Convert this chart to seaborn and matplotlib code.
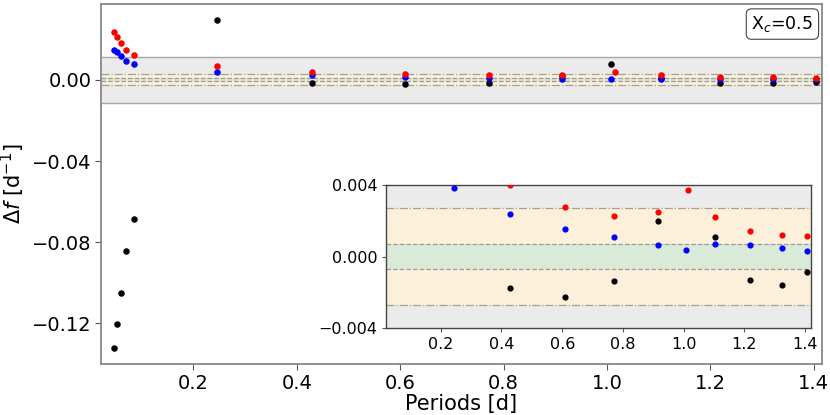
import matplotlib
matplotlib.use('Agg')
import seaborn as sns
import pandas as pd
import matplotlib.pyplot as plt

sns.set_style('ticks')
plt.rcParams['font.family'] = ['DejaVu Sans']
plt.rcParams['text.color'] = 'black'
plt.rcParams['axes.labelcolor'] = 'black'
plt.rcParams['xtick.color'] = 'black'
plt.rcParams['ytick.color'] = 'black'

# periods [d] and frequency differences [1/d] for the three series
periods = [0.0472, 0.0530, 0.0602, 0.0692, 0.0847, 0.245, 0.429, 0.610, 0.772, 0.914,
           1.008, 1.104, 1.219, 1.322, 1.405]
red_periods = [0.0472, 0.0530, 0.0602, 0.0692, 0.0847, 0.246, 0.429, 0.610, 0.772, 0.914,
               1.015, 1.104, 1.219, 1.322, 1.405]
df_black = [-0.1323, -0.1201, -0.1049, -0.0843, -0.0684, 0.0295, -0.00178, -0.00224, -0.00136, 0.00200,
            0.0077, 0.00110, -0.00129, -0.00157, -0.00088]
df_blue = [0.0149, 0.0136, 0.0118, 0.0094, 0.0077, 0.0038, 0.00237, 0.00153, 0.00108, 0.00065,
           0.00037, 0.00067, 0.00062, 0.00050, 0.00028]
df_red = [0.0235, 0.0213, 0.0184, 0.0149, 0.0122, 0.0067, 0.0040, 0.00275, 0.00226, 0.00250,
          0.00368, 0.00219, 0.00140, 0.00118, 0.00116]

# tolerance bands
band_gray = 0.0112
band_orange = 0.0027
band_green = 0.0007

black = pd.DataFrame({'P': periods, 'df': df_black})
blue = pd.DataFrame({'P': periods, 'df': df_blue})
red = pd.DataFrame({'P': red_periods, 'df': df_red})

fig = plt.figure(figsize=(8.3, 4.15), dpi=100)
ax = fig.add_axes([0.1217, 0.1229, 0.8687, 0.8675])
ax2 = fig.add_axes([0.4651, 0.2089, 0.5120, 0.3460])


def draw_bands(a):
    a.axhspan(-band_gray, band_gray, color='#ebebeb', lw=0, zorder=0)
    a.axhspan(-band_orange, band_orange, color='#fdf0da', lw=0, zorder=0.5)
    a.axhspan(-band_green, band_green, color='#d9ebd8', lw=0, zorder=0.6)
    for s in (-1, 1):
        a.axhline(s * band_gray, color='#a8a8a8', lw=1.0, zorder=1)
        a.axhline(s * band_orange, color='#a89f92', lw=0.9, ls='-.', zorder=1)
        a.axhline(s * band_green, color='#9a9a9a', lw=0.9, ls='--', zorder=1)


for a, s in ((ax, 22), (ax2, 20)):
    draw_bands(a)
    sns.scatterplot(data=black, x='P', y='df', color='black', s=s, linewidth=0, ax=a, zorder=3)
    sns.scatterplot(data=blue, x='P', y='df', color='blue', s=s, linewidth=0, ax=a, zorder=3)
    sns.scatterplot(data=red, x='P', y='df', color='red', s=s, linewidth=0, ax=a, zorder=3)

ax.set_xlim(0.0215, 1.416)
ax.set_ylim(-0.140, 0.0374)
ax.set_xticks([0.2, 0.4, 0.6, 0.8, 1.0, 1.2, 1.4])
ax.set_yticks([0.0, -0.04, -0.08, -0.12])
ax.set_yticklabels(['0.00', '\u22120.04', '\u22120.08', '\u22120.12'])
ax.tick_params(labelsize=14, length=4, color='#555555', pad=3)
ax.set_xlabel('Periods [d]', fontsize=15, labelpad=1)
ax.set_ylabel(r'$\Delta f$ [d$^{-1}$]', fontsize=15, labelpad=3)
for sp in ax.spines.values():
    sp.set_color('#888888')
    sp.set_linewidth(1.3)

ax.text(0.988, 0.972, r'X$_c$=0.5', transform=ax.transAxes, ha='right', va='top',
        fontsize=12.5, bbox=dict(boxstyle='round,pad=0.3', fc='white', ec='#444444', lw=0.8), zorder=5)

ax2.set_xlim(0.020, 1.419)
ax2.set_ylim(-0.004, 0.004)
ax2.set_xticks([0.2, 0.4, 0.6, 0.8, 1.0, 1.2, 1.4])
ax2.set_yticks([-0.004, 0.0, 0.004])
ax2.set_yticklabels(['\u22120.004', '0.000', '0.004'])
ax2.tick_params(labelsize=11.5, length=3, color='#555555', pad=3)
ax2.set_xlabel('')
ax2.set_ylabel('')
for sp in ax2.spines.values():
    sp.set_color('#444444')
    sp.set_linewidth(1.0)

fig.savefig('out.png', dpi=100)
